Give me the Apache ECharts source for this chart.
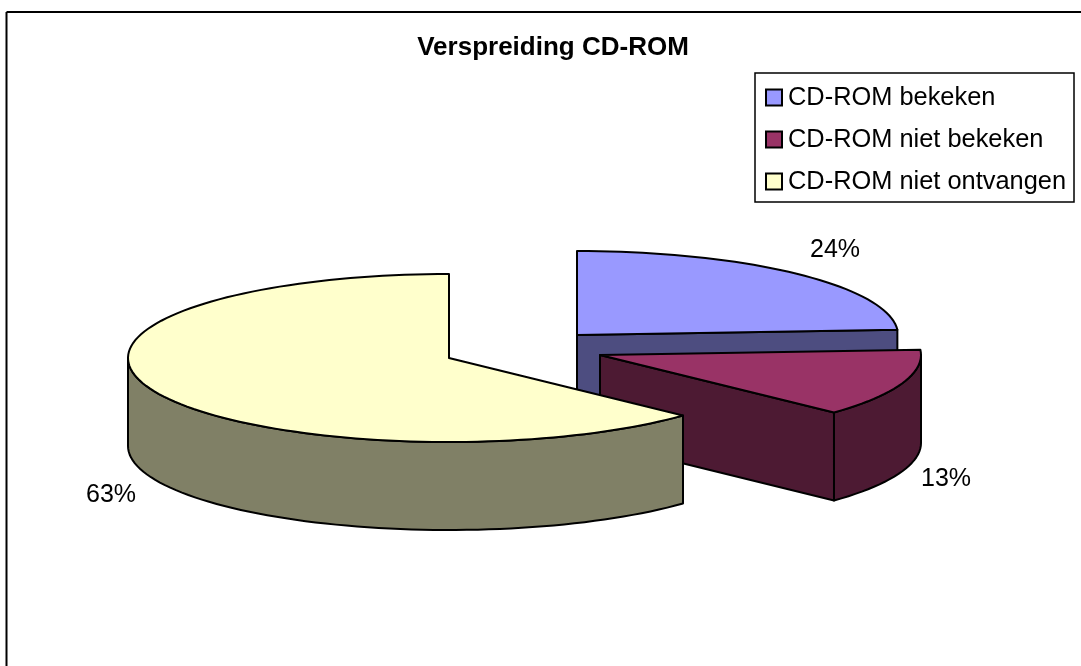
<!DOCTYPE html>
<html>
<head>
<meta charset="utf-8">
<style>
  html, body { margin: 0; background: #fff; }
  #chart { width: 1081px; height: 666px; }
</style>
</head>
<body>
<div id="chart"></div>
<script src="https://cdn.jsdelivr.net/npm/echarts@6/dist/echarts.min.js"></script>
<script>
// data
const categories = ["CD-ROM bekeken", "CD-ROM niet bekeken", "CD-ROM niet ontvangen"];
const sliceValues = [24, 13, 63];
const topColors = ["#9999FF", "#993366", "#FFFFCC"];
const wallColors = ["#4D4D80", "#4D1A33", "#808066"];

// pie shape, in pixels
const RX = 321, RY = 84, DEPTH = 88;
const centers = [[577, 335], [600, 355], [449, 358]];
const labelPos = [[835, 250], [946, 479], [111, 495]];
const FONT = "Liberation Sans, Arial, sans-serif";

const total = sliceValues.reduce((a, b) => a + b, 0);

// angle is in degrees, clockwise from the top of the pie
function rim(c, deg, dy) {
  const a = deg * Math.PI / 180;
  return [c[0] + RX * Math.sin(a), c[1] - RY * Math.cos(a) + dy];
}

function arc(c, from, to, dy) {
  const pts = [];
  const n = Math.max(1, Math.ceil(Math.abs(to - from) / 2));
  for (let i = 0; i <= n; i++) pts.push(rim(c, from + (to - from) * i / n, dy));
  return pts;
}

function poly(points, fill) {
  return {
    type: "polygon",
    shape: { points: points },
    style: { fill: fill, stroke: "#000", lineWidth: 2, lineJoin: "round" }
  };
}

function sliceRenderer(idx) {
  return function (params, api) {
    const before = sliceValues.slice(0, idx).reduce((a, b) => a + b, 0);
    const start = before / total * 360;
    const end = start + api.value(0) / total * 360;
    const c = centers[idx];
    const kids = [];

    // cut face facing the viewer
    if (Math.sin(end * Math.PI / 180) > 0.001) {
      const p = rim(c, end, 0);
      kids.push(poly([c, p, [p[0], p[1] + DEPTH], [c[0], c[1] + DEPTH]], wallColors[idx]));
    }
    // outer wall, only the front half of the rim shows
    const wallFrom = Math.max(start, 90), wallTo = Math.min(end, 270);
    if (wallTo > wallFrom) {
      const upper = arc(c, wallFrom, wallTo, 0);
      const lower = arc(c, wallTo, wallFrom, DEPTH);
      kids.push(poly(upper.concat(lower), wallColors[idx]));
    }
    // top
    kids.push(poly([c].concat(arc(c, start, end, 0)), topColors[idx]));
    // percent label
    kids.push({
      type: "text",
      x: labelPos[idx][0],
      y: labelPos[idx][1],
      style: {
        text: Math.round(api.value(0) / total * 100) + "%",
        fill: "#000",
        font: "25px " + FONT,
        align: "center",
        verticalAlign: "middle"
      }
    });
    return { type: "group", children: kids };
  };
}

const chart = echarts.init(document.getElementById("chart"));
chart.setOption({
  animation: false,
  backgroundColor: "#fff",
  title: {
    text: "Verspreiding CD-ROM",
    left: 553,
    top: 35,
    textAlign: "center",
    padding: 0,
    textStyle: { fontFamily: FONT, fontSize: 26, fontWeight: "bold", color: "#000" }
  },
  legend: {
    data: categories,
    orient: "vertical",
    left: 755,
    top: 73,
    padding: [12, 8, 8, 10],
    itemGap: 17,
    itemWidth: 16,
    itemHeight: 16,
    icon: "rect",
    selectedMode: false,
    borderColor: "#000",
    borderWidth: 1.5,
    backgroundColor: "#fff",
    itemStyle: { borderColor: "#000", borderWidth: 2 },
    textStyle: { fontFamily: FONT, fontSize: 25.4, color: "#000", padding: [0, 0, 6, 1] }
  },
  graphic: [
    { type: "line", shape: { x1: 6.5, y1: 12, x2: 1081, y2: 12 }, style: { stroke: "#000", lineWidth: 2 } },
    { type: "line", shape: { x1: 6.5, y1: 12, x2: 6.5, y2: 666 }, style: { stroke: "#000", lineWidth: 2 } }
  ],
  series: categories.map((name, i) => ({
    name: name,
    type: "custom",
    coordinateSystem: "none",
    itemStyle: { color: topColors[i] },
    renderItem: sliceRenderer(i),
    data: [sliceValues[i]]
  }))
});
</script>
</body>
</html>
